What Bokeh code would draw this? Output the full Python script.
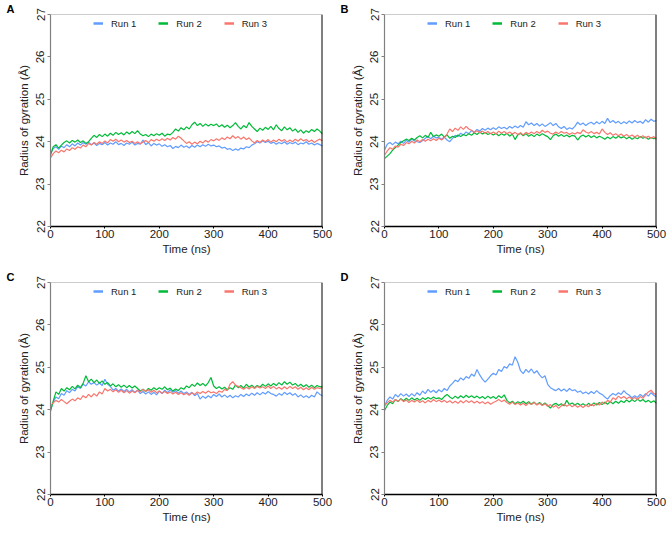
import numpy as np
from bokeh.plotting import figure
from bokeh.layouts import column, row
from bokeh.models import Span, FixedTicker, Legend, LegendItem, Title
from bokeh.embed import file_html
from bokeh.resources import INLINE

time_ns = list(range(0, 501, 5))

a_run1 = [23.72, 23.84, 23.88, 23.82, 23.90, 23.86, 23.93, 23.88, 23.95, 23.90,
          23.97, 23.92, 23.98, 23.94, 23.99, 23.93, 23.97, 23.91, 23.96, 23.93,
          23.98, 23.92, 23.97, 23.94, 24.00, 23.93, 23.96, 23.91, 23.97, 23.94,
          23.99, 23.92, 23.96, 23.94, 24.04, 23.93, 23.98, 23.90, 23.96, 23.92,
          23.95, 23.89, 23.93, 23.88, 23.91, 23.84, 23.89, 23.86, 23.92, 23.87,
          23.90, 23.85, 23.91, 23.87, 23.92, 23.88, 23.93, 23.89, 23.94, 23.90,
          23.92, 23.88, 23.90, 23.85, 23.87, 23.82, 23.84, 23.79, 23.83, 23.80,
          23.85, 23.83, 23.88, 23.86, 23.92, 23.95, 24.00, 23.97, 24.02, 23.98,
          24.01, 23.96, 23.99, 23.94, 23.98, 23.95, 24.00, 23.94, 23.98, 23.95,
          23.99, 23.93, 23.97, 23.95, 24.00, 23.94, 23.97, 23.92, 23.96, 23.93,
          23.90]
a_run2 = [23.68, 23.88, 23.93, 23.85, 23.92, 23.98, 24.02, 23.97, 24.03, 23.99,
          24.04, 23.98, 24.02, 23.96, 24.00, 24.08, 24.15, 24.10, 24.17, 24.12,
          24.18, 24.13, 24.20, 24.15, 24.22, 24.17, 24.21, 24.16, 24.23, 24.18,
          24.24, 24.19, 24.26, 24.18, 24.14, 24.17, 24.12, 24.18, 24.14, 24.19,
          24.15, 24.20, 24.13, 24.18, 24.16, 24.22, 24.30, 24.25, 24.33, 24.28,
          24.35, 24.30, 24.40, 24.46, 24.38, 24.43, 24.36, 24.42, 24.37, 24.41,
          24.38, 24.42, 24.35, 24.40, 24.34, 24.39, 24.33, 24.38, 24.45, 24.36,
          24.30, 24.38, 24.33, 24.45, 24.36, 24.30, 24.24, 24.32, 24.27, 24.34,
          24.29, 24.36, 24.28, 24.40, 24.31, 24.26, 24.35, 24.28, 24.33, 24.25,
          24.30, 24.22, 24.28, 24.20, 24.26, 24.22, 24.29, 24.24, 24.30, 24.25,
          24.18]
a_run3 = [23.62, 23.72, 23.78, 23.74, 23.80, 23.76, 23.83, 23.79, 23.86, 23.82,
          23.88, 23.85, 23.92, 23.88, 23.96, 23.92, 23.98, 23.94, 24.00, 23.96,
          24.02, 23.97, 24.05, 24.01, 24.06, 24.00, 24.04, 23.99, 24.03, 23.98,
          24.01, 23.96, 24.00, 23.95, 23.99, 24.03, 23.98, 24.05, 24.01, 24.06,
          24.02, 24.07, 24.03, 24.08, 24.04, 24.10, 24.06, 24.13, 24.08, 24.02,
          23.96, 24.00, 23.94, 23.99, 23.95, 24.01, 23.97, 24.03, 23.99, 24.05,
          24.02, 24.07, 24.03, 24.09, 24.05, 24.11, 24.07, 24.14, 24.08, 24.12,
          24.06, 24.11, 24.05, 24.09, 24.02, 23.97, 24.03, 23.98, 24.04, 24.00,
          24.05, 23.99, 24.04, 24.00, 24.06, 24.01, 24.05, 23.99, 24.04, 24.00,
          24.06, 24.01, 24.07, 24.02, 24.05, 24.00, 24.04, 23.98, 24.03, 24.06,
          24.02]

b_run1 = [23.80, 23.94, 23.98, 23.93, 23.99, 23.95, 24.01, 23.96, 24.03, 23.99,
          24.06, 24.02, 24.00, 23.98, 24.03, 24.08, 24.12, 24.07, 24.13, 24.09,
          24.10, 24.06, 24.11, 24.04, 24.00, 24.08, 24.15, 24.12, 24.20, 24.16,
          24.23, 24.19, 24.26, 24.22, 24.29, 24.25, 24.31, 24.27, 24.32, 24.28,
          24.33, 24.29, 24.35, 24.31, 24.34, 24.30, 24.36, 24.32, 24.37, 24.33,
          24.38, 24.34, 24.47, 24.40, 24.44, 24.38, 24.43, 24.37, 24.42, 24.36,
          24.40, 24.45, 24.38, 24.43, 24.35, 24.31, 24.36, 24.29, 24.33, 24.30,
          24.36, 24.46, 24.40, 24.44, 24.38, 24.43, 24.46, 24.41, 24.47, 24.42,
          24.48, 24.43, 24.55, 24.45, 24.50, 24.44, 24.48, 24.42, 24.47, 24.43,
          24.49, 24.44, 24.50, 24.45, 24.48, 24.43, 24.52, 24.46, 24.53, 24.48,
          24.50]
b_run2 = [23.60, 23.66, 23.72, 23.80, 23.86, 23.92, 23.98, 24.02, 24.06, 24.03,
          24.08, 24.04, 24.10, 24.14, 24.09, 24.15, 24.10, 24.22, 24.12, 24.16,
          24.13, 24.18, 24.11, 24.16, 24.08, 24.13, 24.10, 24.16, 24.12, 24.17,
          24.14, 24.19, 24.15, 24.21, 24.17, 24.23, 24.18, 24.22, 24.17, 24.20,
          24.16, 24.20, 24.14, 24.19, 24.15, 24.20, 24.13, 24.18, 24.05, 24.16,
          24.20, 24.14, 24.19, 24.13, 24.17, 24.12, 24.18, 24.14, 24.19, 24.15,
          24.12, 24.05, 24.14, 24.18, 24.13, 24.17, 24.12, 24.16, 24.11, 24.15,
          24.13, 24.04, 24.12, 24.16, 24.11, 24.15, 24.10, 24.14, 24.09, 24.13,
          24.10, 24.06, 24.11, 24.07, 24.12, 24.08, 24.13, 24.09, 24.12, 24.07,
          24.11, 24.06, 24.10, 24.07, 24.12, 24.08, 24.11, 24.06, 24.10, 24.07,
          24.09]
b_run3 = [23.68, 23.78, 23.86, 23.82, 23.90, 23.87, 23.94, 23.91, 23.98, 23.95,
          24.01, 23.97, 24.04, 24.00, 24.05, 24.01, 24.06, 24.02, 24.07, 24.03,
          24.08, 24.04, 24.10, 24.18, 24.30, 24.24, 24.32, 24.27, 24.35, 24.29,
          24.36, 24.30, 24.27, 24.22, 24.26, 24.21, 24.25, 24.20, 24.24, 24.19,
          24.23, 24.18, 24.25, 24.20, 24.24, 24.19, 24.23, 24.18, 24.22, 24.17,
          24.21, 24.16, 24.22, 24.18, 24.23, 24.19, 24.24, 24.20, 24.27, 24.22,
          24.25, 24.20, 24.18, 24.23, 24.19, 24.24, 24.20, 24.22, 24.17, 24.21,
          24.18, 24.22, 24.19, 24.28, 24.23, 24.20, 24.24, 24.19, 24.22, 24.18,
          24.30, 24.22, 24.17, 24.21, 24.15, 24.19, 24.14, 24.18, 24.13, 24.17,
          24.12, 24.16, 24.11, 24.15, 24.10, 24.14, 24.09, 24.13, 24.08, 24.12,
          24.05]

c_run1 = [24.00, 24.18, 24.30, 24.26, 24.38, 24.34, 24.45, 24.40, 24.48, 24.44,
          24.55, 24.50, 24.60, 24.56, 24.66, 24.60, 24.64, 24.58, 24.63, 24.57,
          24.72, 24.60, 24.55, 24.46, 24.50, 24.44, 24.49, 24.43, 24.48, 24.42,
          24.47, 24.41, 24.46, 24.38, 24.43, 24.37, 24.42, 24.36, 24.41, 24.35,
          24.44, 24.38, 24.46, 24.40, 24.47, 24.41, 24.45, 24.39, 24.44, 24.38,
          24.42, 24.36, 24.41, 24.33, 24.38, 24.25, 24.32, 24.27, 24.33, 24.28,
          24.36, 24.31, 24.37, 24.30, 24.35, 24.29, 24.34, 24.28, 24.33, 24.30,
          24.36, 24.31, 24.37, 24.33, 24.39, 24.34, 24.40, 24.35, 24.41, 24.37,
          24.43, 24.38, 24.36, 24.32, 24.38, 24.34, 24.41, 24.36, 24.40, 24.34,
          24.38, 24.30, 24.35, 24.29, 24.33, 24.28, 24.34, 24.30, 24.42, 24.36,
          24.33]
c_run2 = [23.96, 24.20, 24.42, 24.36, 24.50, 24.44, 24.52, 24.47, 24.55, 24.49,
          24.58, 24.52, 24.62, 24.80, 24.66, 24.72, 24.64, 24.70, 24.62, 24.68,
          24.60, 24.64, 24.56, 24.61, 24.54, 24.59, 24.53, 24.58, 24.52, 24.57,
          24.51, 24.56, 24.50, 24.44, 24.48, 24.43, 24.50, 24.46, 24.52, 24.47,
          24.52, 24.48, 24.54, 24.47, 24.51, 24.44, 24.49, 24.45, 24.52, 24.48,
          24.56, 24.52, 24.60, 24.55, 24.63, 24.57, 24.62, 24.56, 24.64, 24.76,
          24.56, 24.50, 24.54, 24.49, 24.53, 24.47, 24.52, 24.48, 24.58, 24.52,
          24.57, 24.51, 24.60, 24.53, 24.58, 24.52, 24.57, 24.53, 24.60, 24.55,
          24.61, 24.56, 24.62, 24.57, 24.64, 24.58, 24.66, 24.60, 24.65, 24.58,
          24.62, 24.55, 24.60, 24.54, 24.59, 24.53, 24.58, 24.52, 24.57, 24.54,
          24.55]
c_run3 = [24.10, 24.16, 24.22, 24.18, 24.24, 24.19, 24.14, 24.20, 24.25, 24.21,
          24.28, 24.24, 24.33, 24.28, 24.36, 24.30, 24.38, 24.32, 24.42, 24.37,
          24.50, 24.44, 24.48, 24.42, 24.47, 24.41, 24.46, 24.40, 24.45, 24.39,
          24.44, 24.40, 24.46, 24.42, 24.48, 24.43, 24.47, 24.41, 24.46, 24.40,
          24.44, 24.39, 24.43, 24.38, 24.42, 24.37, 24.41, 24.36, 24.40, 24.35,
          24.39, 24.34, 24.40, 24.36, 24.42, 24.38, 24.43, 24.39, 24.44, 24.40,
          24.42, 24.38, 24.44, 24.41, 24.48, 24.45, 24.60, 24.66, 24.58, 24.55,
          24.52, 24.48, 24.53, 24.49, 24.54, 24.50, 24.55, 24.51, 24.54, 24.50,
          24.56, 24.50, 24.55, 24.49, 24.53, 24.48, 24.54, 24.49, 24.55, 24.50,
          24.54, 24.48, 24.53, 24.47, 24.52, 24.47, 24.53, 24.48, 24.52, 24.50,
          24.52]

d_run1 = [24.08, 24.22, 24.30, 24.25, 24.36, 24.30, 24.38, 24.32, 24.37, 24.31,
          24.38, 24.32, 24.40, 24.34, 24.44, 24.38, 24.48, 24.41, 24.46, 24.40,
          24.47, 24.42, 24.50, 24.45, 24.56, 24.62, 24.70, 24.66, 24.75, 24.70,
          24.78, 24.74, 24.84, 24.79, 24.95, 24.82, 24.72, 24.65, 24.72, 24.80,
          24.86, 24.82, 24.95, 24.90, 25.02, 24.98, 25.08, 25.05, 25.25, 25.12,
          24.92, 24.85, 24.95, 24.88, 24.96, 24.86, 24.92, 24.82, 24.75, 24.80,
          24.60, 24.52, 24.48, 24.45, 24.50, 24.44, 24.49, 24.43, 24.50, 24.45,
          24.47, 24.41, 24.44, 24.38, 24.42, 24.37, 24.43, 24.38, 24.45, 24.39,
          24.36, 24.30, 24.25, 24.33, 24.38, 24.34, 24.40, 24.36, 24.45, 24.38,
          24.34, 24.28, 24.33, 24.29, 24.36, 24.31, 24.38, 24.32, 24.40, 24.34,
          24.30]
d_run2 = [23.98, 24.10, 24.18, 24.14, 24.24, 24.19, 24.26, 24.21, 24.27, 24.22,
          24.28, 24.23, 24.27, 24.22, 24.28, 24.24, 24.29, 24.25, 24.30, 24.26,
          24.28, 24.24, 24.31, 24.36, 24.30, 24.26, 24.32, 24.27, 24.33, 24.28,
          24.34, 24.29, 24.33, 24.28, 24.32, 24.27, 24.31, 24.26, 24.32, 24.27,
          24.31, 24.26, 24.33, 24.28, 24.35, 24.22, 24.16, 24.20, 24.14, 24.19,
          24.15, 24.20, 24.14, 24.19, 24.13, 24.18, 24.12, 24.17, 24.11, 24.16,
          24.10, 24.04, 24.12, 24.15, 24.10, 24.14, 24.09, 24.22, 24.12, 24.16,
          24.11, 24.15, 24.10, 24.14, 24.09, 24.15, 24.10, 24.16, 24.11, 24.17,
          24.12, 24.18, 24.13, 24.19, 24.14, 24.20, 24.15, 24.21, 24.17, 24.23,
          24.18, 24.24, 24.19, 24.25, 24.20, 24.24, 24.18, 24.22, 24.17, 24.21,
          24.15]
d_run3 = [24.10, 24.16, 24.22, 24.18, 24.24, 24.20, 24.25, 24.19, 24.23, 24.17,
          24.22, 24.18, 24.23, 24.17, 24.21, 24.16, 24.22, 24.18, 24.24, 24.19,
          24.23, 24.18, 24.22, 24.17, 24.21, 24.16, 24.20, 24.15, 24.21, 24.16,
          24.22, 24.17, 24.21, 24.16, 24.20, 24.15, 24.19, 24.14, 24.18, 24.13,
          24.17, 24.20, 24.24, 24.19, 24.23, 24.17, 24.13, 24.18, 24.12, 24.16,
          24.11, 24.15, 24.10, 24.16, 24.12, 24.17, 24.11, 24.15, 24.10, 24.14,
          24.08, 24.12, 24.06, 24.10, 24.03, 24.09, 24.13, 24.08, 24.12, 24.07,
          24.11, 24.06, 24.10, 24.05, 24.11, 24.07, 24.13, 24.09, 24.15, 24.11,
          24.18, 24.14, 24.22, 24.18, 24.28, 24.24, 24.32, 24.27, 24.31, 24.26,
          24.30, 24.25, 24.29, 24.24, 24.31, 24.27, 24.35, 24.42, 24.46, 24.38,
          24.36]

panel_letters = ["A", "B", "C", "D"]
run_labels = ["Run 1", "Run 2", "Run 3"]
run_colors = ["#619CFF", "#00BA38", "#F8766D"]
x_ticks = [0, 100, 200, 300, 400, 500]
y_ticks = [22, 23, 24, 25, 26, 27]

FONT = "Liberation Sans"
TXT = "#222222"
NAN = float("nan")


def make_panel(letter, runs, width, height, bl, br, bt, bb):
    title = Title(text=letter, align="left", offset=-44, standoff=0,
                  text_font=FONT, text_font_size="11px", text_font_style="bold",
                  text_color="black")
    p = figure(width=width, height=height, output_backend="svg", toolbar_location=None,
               x_range=(0, 500), y_range=(22, 27), title=title,
               min_border_left=bl, min_border_right=br, min_border_top=bt, min_border_bottom=bb)
    p.grid.visible = False
    p.outline_line_color = None

    items = []
    for vals, lab, col in zip(runs, run_labels, run_colors):
        p.line(time_ns, vals, line_color=col, line_width=1.2)
        # legend-only proxy (NaN point draws nothing in the plot area)
        proxy = p.line([NAN], [NAN], line_color=col, line_width=2.5)
        items.append(LegendItem(label=lab, renderers=[proxy]))

    # top (gray thin) and right (black thick) box edges
    p.add_layout(Span(location=27, dimension="width", line_color="#9a9a9a", line_width=1))
    p.add_layout(Span(location=500, dimension="height", line_color="black", line_width=2))

    xa = p.xaxis[0]
    xa.ticker = FixedTicker(ticks=x_ticks)
    xa.axis_label = "Time (ns)"
    xa.axis_line_color = "black"
    xa.axis_line_width = 1.6
    xa.major_tick_out = 2
    xa.major_tick_in = 0
    xa.major_tick_line_color = "black"
    xa.minor_tick_line_color = None
    xa.major_label_standoff = 1
    xa.axis_label_standoff = 2
    xa.major_label_text_font = FONT
    xa.major_label_text_font_size = "11.5px"
    xa.major_label_text_color = TXT
    xa.axis_label_text_font = FONT
    xa.axis_label_text_font_size = "11.5px"
    xa.axis_label_text_font_style = "normal"
    xa.axis_label_text_color = TXT

    ya = p.yaxis[0]
    ya.ticker = FixedTicker(ticks=y_ticks)
    ya.axis_label = "Radius of gyration (Å)"
    ya.axis_line_color = "#808080"
    ya.axis_line_width = 1.2
    ya.major_tick_out = 3
    ya.major_tick_in = 0
    ya.major_tick_line_color = "#808080"
    ya.minor_tick_line_color = None
    ya.major_label_orientation = "parallel"
    ya.major_label_standoff = 3
    ya.axis_label_standoff = 4
    ya.major_label_text_font = FONT
    ya.major_label_text_font_size = "11.5px"
    ya.major_label_text_color = TXT
    ya.axis_label_text_font = FONT
    ya.axis_label_text_font_size = "11.5px"
    ya.axis_label_text_font_style = "normal"
    ya.axis_label_text_color = TXT

    lg = Legend(items=items, orientation="horizontal", location=(43, 193),
                border_line_color=None, background_fill_alpha=0,
                glyph_width=10, glyph_height=20, label_standoff=8, spacing=22,
                padding=0, margin=0, label_text_font=FONT, label_text_font_size="9.5px",
                label_text_color=TXT)
    p.add_layout(lg)
    return p


pa = make_panel("A", [a_run1, a_run2, a_run3], 334, 268, 50, 12, 13, 42)
pb = make_panel("B", [b_run1, b_run2, b_run3], 334, 268, 50, 12, 13, 42)
pc = make_panel("C", [c_run1, c_run2, c_run3], 334, 267, 50, 12, 13, 41)
pd = make_panel("D", [d_run1, d_run2, d_run3], 334, 267, 50, 12, 13, 41)

layout = column(row(pa, pb), row(pc, pd))

with open("out.html", "w") as f:
    f.write(file_html(layout, INLINE))
